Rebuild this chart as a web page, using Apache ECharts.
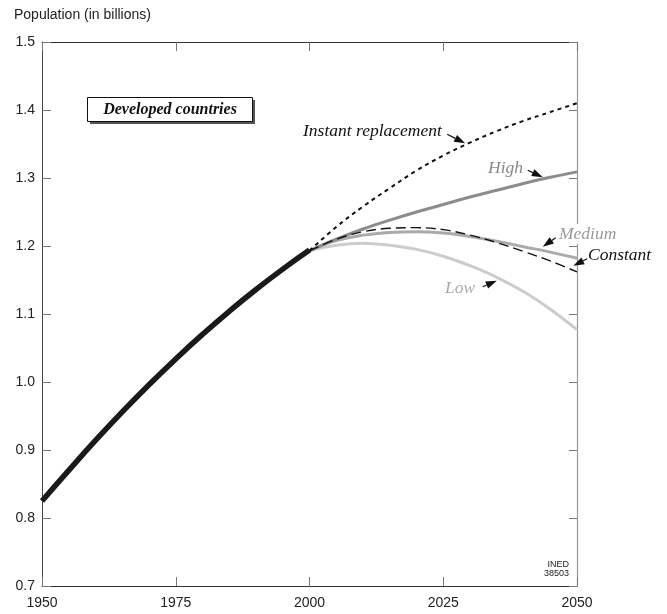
<!DOCTYPE html>
<html>
<head>
<meta charset="utf-8">
<script src="https://cdn.jsdelivr.net/npm/echarts@6/dist/echarts.min.js"></script>
<style>
html,body{margin:0;padding:0;background:#fff;}
#c{width:667px;height:614px;}
</style>
</head>
<body>
<div id="c"></div>
<script>
// ---- data ----
const xTicks = [1950, 1975, 2000, 2025, 2050];
const yTicks = [0.7, 0.8, 0.9, 1.0, 1.1, 1.2, 1.3, 1.4, 1.5];
const histYears = [1950,1955,1960,1965,1970,1975,1980,1985,1990,1995,2000];
const histPop   = [0.825,0.870,0.914,0.956,0.996,1.034,1.070,1.104,1.136,1.166,1.194];
const projYears = [2000,2005,2010,2015,2020,2025,2030,2035,2040,2045,2050];
const instantRepl = [1.193,1.228,1.258,1.285,1.311,1.333,1.352,1.369,1.384,1.397,1.410];
const highVar     = [1.193,1.210,1.225,1.238,1.250,1.261,1.272,1.282,1.292,1.301,1.309];
const mediumVar   = [1.193,1.208,1.216,1.220,1.221,1.219,1.214,1.207,1.199,1.191,1.182];
const constantVar = [1.193,1.210,1.221,1.226,1.227,1.224,1.216,1.205,1.192,1.178,1.162];
const lowVar      = [1.193,1.201,1.204,1.201,1.195,1.185,1.171,1.154,1.133,1.107,1.077];
const seriesNames = ['Instant replacement','High','Medium','Constant','Low'];

const pairs = (xs, ys) => xs.map((x, i) => [x, ys[i]]);

const chart = echarts.init(document.getElementById('c'), null, {renderer: 'canvas'});
const tickStyle = {color: '#777', width: 1};
const sans = 'Liberation Sans, Arial, Helvetica, sans-serif';
const serif = 'Liberation Serif, Times New Roman, serif';

const option = {
  animation: false,
  backgroundColor: '#fff',
  grid: {left: 42, right: 90, top: 42, bottom: 28},
  xAxis: [
    {type: 'value', position: 'bottom', min: xTicks[0], max: xTicks[xTicks.length-1], interval: 25,
     axisLine: {onZero: false, lineStyle: {color: '#333', width: 1}},
     axisTick: {inside: true, length: 9, lineStyle: tickStyle},
     axisLabel: {color: '#222', fontSize: 14, fontFamily: sans, margin: 10, formatter: v => String(v)},
     splitLine: {show: false}},
    {type: 'value', position: 'top', min: xTicks[0], max: xTicks[xTicks.length-1], interval: 25,
     axisLine: {onZero: false, lineStyle: {color: '#333', width: 1}},
     axisTick: {inside: true, length: 9, lineStyle: tickStyle},
     axisLabel: {show: false}, splitLine: {show: false}}
  ],
  yAxis: [
    {type: 'value', position: 'left', min: yTicks[0], max: yTicks[yTicks.length-1], interval: 0.1,
     axisLine: {onZero: false, show: true, lineStyle: {color: '#444', width: 1}},
     axisTick: {show: true, inside: true, length: 9, lineStyle: tickStyle},
     axisLabel: {color: '#222', fontSize: 14, fontFamily: sans, margin: 7, formatter: v => v.toFixed(1)},
     splitLine: {show: false}},
    {type: 'value', position: 'right', min: yTicks[0], max: yTicks[yTicks.length-1], interval: 0.1,
     axisLine: {onZero: false, show: true, lineStyle: {color: '#999', width: 1.2}},
     axisTick: {show: true, inside: true, length: 8, lineStyle: tickStyle},
     axisLabel: {show: false}, splitLine: {show: false}}
  ],
  series: [
    {name: 'Low', type: 'line', data: pairs(projYears, lowVar), smooth: 0.4, showSymbol: false,
     lineStyle: {color: '#cccccc', width: 3}, z: 2},
    {name: 'Medium', type: 'line', data: pairs(projYears, mediumVar), smooth: 0.4, showSymbol: false,
     lineStyle: {color: '#aaaaaa', width: 3}, z: 3},
    {name: 'High', type: 'line', data: pairs(projYears, highVar), smooth: 0.4, showSymbol: false,
     lineStyle: {color: '#8c8c8c', width: 3}, z: 3},
    {name: 'Constant', type: 'line', data: pairs(projYears, constantVar), smooth: 0.4, showSymbol: false,
     lineStyle: {color: '#111', width: 1.4, type: [10, 5]}, z: 4},
    {name: 'Instant replacement', type: 'line', data: pairs(projYears, instantRepl), smooth: 0.4, showSymbol: false,
     lineStyle: {color: '#111', width: 2, type: [4, 4]}, z: 4},
    {name: 'History', type: 'line', data: pairs(histYears, histPop), smooth: 0.5, showSymbol: false,
     lineStyle: {color: '#1a1a1a', width: 5.5}, z: 5}
  ]
};
chart.setOption(option);

// ---- annotations ----
const notes = [
  {text: seriesNames[0], color: '#111', lx: 303, ly: 131, target: [2029.1, 1.351], tail: [-18, -9]},
  {text: seriesNames[1], color: '#888', lx: 488, ly: 168, target: [2043.6, 1.301], tail: [-15, -7]},
  {text: seriesNames[2], color: '#999', lx: 558, ly: 234, target: [2043.6, 1.199], tail: [13, -9], bg: true},
  {text: seriesNames[3], color: '#111', lx: 588, ly: 255, target: [2049.3, 1.171], tail: [14, -7]},
  {text: seriesNames[4], color: '#aaa', lx: 445, ly: 288, target: [2035.0, 1.149], tail: [-14, 6]}
];
const graphics = [];
graphics.push({type: 'text', left: 14, top: 8,
  style: {text: 'Population (in billions)', font: '14px ' + sans, fill: '#222'}});
// title box with shadow
graphics.push({type: 'rect', shape: {x: 90, y: 100, width: 165, height: 24}, style: {fill: '#555'}, z: 10});
graphics.push({type: 'rect', shape: {x: 87.5, y: 97.5, width: 165, height: 24}, style: {fill: '#fff', stroke: '#111', lineWidth: 1}, z: 11});
graphics.push({type: 'text', x: 170, y: 110, z: 12,
  style: {text: 'Developed countries', font: 'italic bold 16px ' + serif, fill: '#111', align: 'center', verticalAlign: 'middle'}});
// source
graphics.push({type: 'text', x: 569, y: 569, z: 12,
  style: {text: 'INED\n38503', font: '9px Liberation Sans Narrow, Arial Narrow, ' + sans, fill: '#222', align: 'right', verticalAlign: 'middle', lineHeight: 9}});

notes.forEach(n => {
  const tip = chart.convertToPixel({xAxisIndex: 0, yAxisIndex: 0}, n.target);
  const tail = [tip[0] + n.tail[0], tip[1] + n.tail[1]];
  const dx = tip[0] - tail[0], dy = tip[1] - tail[1];
  const len = Math.sqrt(dx*dx + dy*dy);
  const ux = dx/len, uy = dy/len;
  const hl = 11, hw = 3.8;
  const bx = tip[0] - ux*hl, by = tip[1] - uy*hl;
  graphics.push({type: 'line', z: 20, shape: {x1: tail[0], y1: tail[1], x2: bx, y2: by},
    style: {stroke: '#111', lineWidth: 1.2}});
  graphics.push({type: 'polygon', z: 20, shape: {points: [tip, [bx - uy*hw, by + ux*hw], [bx + uy*hw, by - ux*hw]]},
    style: {fill: '#111'}});
  const st = {text: n.text, font: 'italic 17.5px ' + serif, fill: n.color, verticalAlign: 'middle', align: 'left'};
  if (n.bg) { st.backgroundColor = '#fff'; st.padding = [1, 1]; }
  graphics.push({type: 'text', x: n.lx, y: n.ly, z: 19, style: st});
});
chart.setOption({graphic: graphics});
</script>
</body>
</html>
